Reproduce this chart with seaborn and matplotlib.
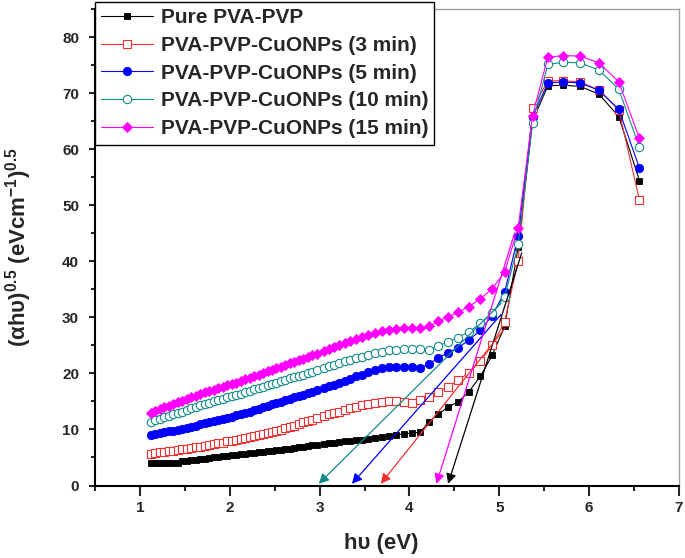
import numpy as np
import pandas as pd
import matplotlib
matplotlib.use("Agg")
import matplotlib.pyplot as plt
import seaborn as sns

# photon energy (eV), shared by all five spectra
energy = [1.12, 1.17, 1.22, 1.27, 1.32, 1.37, 1.42, 1.47, 1.52, 1.57,
          1.62, 1.67, 1.72, 1.77, 1.82, 1.87, 1.92, 1.97, 2.02, 2.07,
          2.12, 2.17, 2.22, 2.27, 2.32, 2.37, 2.42, 2.47, 2.52, 2.57,
          2.62, 2.67, 2.72, 2.77, 2.82, 2.87, 2.92, 2.97,
          3.05, 3.11, 3.16, 3.22, 3.28, 3.34, 3.41, 3.47, 3.54, 3.62,
          3.69, 3.77, 3.85, 3.94, 4.03, 4.12, 4.22, 4.32, 4.43, 4.54,
          4.66, 4.79, 4.92, 5.06, 5.21, 5.37, 5.54, 5.71, 5.90, 6.11,
          6.33, 6.56]

pure = [4.1, 4.05, 4.0, 3.95, 3.95, 3.95, 4.0, 4.3, 4.4, 4.5,
        4.6, 4.7, 4.8, 4.9, 5.0, 5.1, 5.2, 5.3, 5.4, 5.5,
        5.6, 5.7, 5.8, 5.85, 5.9, 6.0, 6.1, 6.2, 6.3, 6.4,
        6.5, 6.6, 6.7, 6.85, 6.95, 7.05, 7.15, 7.25,
        7.4, 7.5, 7.6, 7.7, 7.85, 8.0, 8.1, 8.2, 8.3, 8.5,
        8.65, 8.8, 9.0, 9.2, 9.35, 9.5, 11.4, 12.7, 14.0, 14.9,
        16.7, 19.5, 23.2, 28.4, 42.5, 65.0, 71.3, 71.4, 71.2, 69.8,
        65.8, 54.4]

cu_3min = [5.7, 5.8, 5.9, 6.0, 6.1, 6.2, 6.3, 6.45, 6.55, 6.7,
           6.85, 6.95, 7.1, 7.2, 7.35, 7.5, 7.65, 7.85, 8.0, 8.15,
           8.35, 8.5, 8.7, 8.85, 9.0, 9.15, 9.3, 9.5, 9.7, 9.95,
           10.2, 10.45, 10.7, 11.0, 11.25, 11.5, 11.75, 12.0,
           12.4, 12.7, 12.9, 13.2, 13.5, 13.75, 14.05, 14.3, 14.5, 14.75,
           14.9, 15.0, 15.1, 14.9, 14.8, 15.2, 15.8, 16.7, 17.6, 18.8,
           20.1, 22.2, 25.0, 29.2, 40.1, 67.3, 72.2, 72.2, 72.0, 70.5,
           67.0, 50.9]

cu_5min = [9.0, 9.15, 9.3, 9.5, 9.65, 9.8, 9.95, 10.15, 10.3, 10.5,
           10.7, 10.9, 11.1, 11.3, 11.5, 11.7, 11.9, 12.1, 12.3, 12.5,
           12.7, 12.95, 13.2, 13.45, 13.7, 13.95, 14.2, 14.45, 14.7, 14.95,
           15.2, 15.45, 15.7, 15.95, 16.2, 16.45, 16.7, 16.95,
           17.4, 17.75, 18.0, 18.35, 18.7, 19.05, 19.45, 19.8, 20.2, 20.6,
           20.9, 21.1, 21.2, 21.2, 21.1, 21.0, 21.7, 22.8, 23.7, 24.6,
           25.9, 27.7, 30.3, 34.5, 44.5, 65.8, 71.8, 72.0, 71.8, 70.5,
           67.1, 56.6]

cu_10min = [11.4, 11.7, 11.95, 12.2, 12.45, 12.7, 12.95, 13.2, 13.5, 13.75,
            14.0, 14.3, 14.5, 14.75, 15.0, 15.25, 15.45, 15.7, 15.95, 16.2,
            16.4, 16.65, 16.9, 17.15, 17.4, 17.6, 17.85, 18.1, 18.35, 18.6,
            18.85, 19.1, 19.35, 19.55, 19.8, 20.05, 20.3, 20.55,
            20.95, 21.25, 21.55, 21.85, 22.15, 22.45, 22.75, 23.0, 23.3, 23.6,
            23.85, 24.1, 24.2, 24.3, 24.3, 24.3, 24.2, 24.9, 25.6, 26.4,
            27.4, 28.9, 30.7, 33.7, 43.0, 64.7, 75.1, 75.5, 75.4, 74.1,
            70.7, 60.3]

cu_15min = [13.0, 13.35, 13.65, 13.95, 14.25, 14.55, 14.85, 15.15, 15.45, 15.75,
            16.05, 16.35, 16.6, 16.85, 17.1, 17.35, 17.6, 17.85, 18.1, 18.35,
            18.65, 18.95, 19.25, 19.5, 19.8, 20.1, 20.35, 20.65, 20.9, 21.2,
            21.5, 21.8, 22.05, 22.3, 22.6, 22.9, 23.2, 23.5,
            23.95, 24.3, 24.65, 25.0, 25.35, 25.7, 26.1, 26.45, 26.8, 27.2,
            27.55, 27.8, 28.0, 28.1, 28.1, 28.1, 28.4, 29.3, 30.1, 30.9,
            31.9, 33.3, 35.1, 38.1, 46.0, 66.0, 76.4, 76.7, 76.6, 75.4,
            72.0, 61.9]

labels = ["Pure PVA-PVP", "PVA-PVP-CuONPs (3 min)", "PVA-PVP-CuONPs (5 min)",
          "PVA-PVP-CuONPs (10 min)", "PVA-PVP-CuONPs (15 min)"]
colors = ["#000000", "#f03030", "#0000ff", "#108c88", "#ff00ff"]

# tangent lines: (start energy, start value, x-intercept)
tan_start_x = [5.25, 5.06, 5.02, 5.02, 5.17]
tan_start_y = [41.5, 28.0, 30.5, 32.5, 45.0]
tan_gap = [4.43, 3.68, 3.36, 2.99, 4.30]

df = pd.DataFrame({"E": energy, labels[0]: pure, labels[1]: cu_3min,
                   labels[2]: cu_5min, labels[3]: cu_10min, labels[4]: cu_15min})

sns.set_style("ticks")
plt.rcParams["font.family"] = ["Liberation Sans", "DejaVu Sans"]
plt.rcParams["font.weight"] = "bold"
plt.rcParams["axes.labelweight"] = "bold"
plt.rcParams["mathtext.fontset"] = "custom"
plt.rcParams["mathtext.rm"] = "Liberation Sans:bold"
plt.rcParams["mathtext.bf"] = "Liberation Sans:bold"
plt.rcParams["mathtext.default"] = "bf"

fig = plt.figure(figsize=(6.85, 5.58), dpi=100)
ax = fig.add_axes([95 / 685, 1 - 485.5 / 558, 584 / 685, 476.5 / 558])

styles = [dict(marker="s", ms=5, mfc="#000000", mec="#000000", mew=0.6),
          dict(marker="s", ms=5.5, mfc="white", mec=colors[1], mew=0.8),
          dict(marker="o", ms=6, mfc="#0000ff", mec="#0000ff", mew=0.6),
          dict(marker="o", ms=6, mfc="white", mec=colors[3], mew=0.8),
          dict(marker="D", ms=5.5, mfc="#ff00ff", mec="#ff00ff", mew=0.6)]

for lab, c, st in zip(labels, colors, styles):
    sns.lineplot(data=df, x="E", y=lab, ax=ax, color=c, lw=0.8, label=lab,
                 estimator=None, sort=False, markeredgecolor=st.pop("mec"), **st)

for sx, sy, gx, c in zip(tan_start_x, tan_start_y, tan_gap, colors):
    ax.annotate("", xy=(gx, 0.3), xytext=(sx, sy),
                arrowprops=dict(arrowstyle="-|>", color=c, lw=0.9,
                                mutation_scale=15, shrinkA=0, shrinkB=0))

ax.set_xlim(0.5, 7)
ax.set_ylim(0, 85)
ax.set_xticks([1, 2, 3, 4, 5, 6, 7])
ax.set_xticks(np.arange(0.5, 7.01, 0.5), minor=True)
ax.set_yticks([0, 10, 20, 30, 40, 50, 60, 70, 80])
ax.set_yticks(np.arange(0, 85.1, 5), minor=True)
ax.tick_params(axis="x", which="major", direction="out", length=7, width=1.5,
               labelsize=11, pad=4)
ax.tick_params(axis="x", which="minor", direction="out", length=3.5, width=1.5)
ax.tick_params(axis="y", which="major", direction="out", length=4.5, width=1.5,
               labelsize=11, pad=7)
ax.tick_params(axis="y", which="minor", direction="out", length=3, width=1.5)

for s in ["left", "bottom"]:
    ax.spines[s].set_linewidth(1.5)
    ax.spines[s].set_color("black")
for s in ["top", "right"]:
    ax.spines[s].set_linewidth(1.0)
    ax.spines[s].set_color("#a0a0a0")

ax.set_xlabel("hυ (eV)", fontsize=16)
ax.set_ylabel("(αhυ)$^{0.5}$ (eVcm$^{-1}$)$^{0.5}$", fontsize=16)
ax.xaxis.set_label_coords(0.49, -0.10)
ax.yaxis.set_label_coords(-0.105, 0.5)

leg = ax.legend(loc="upper left", bbox_to_anchor=(95 / 685, 1 - 2 / 558),
                bbox_transform=fig.transFigure, borderaxespad=0, frameon=True,
                fancybox=False, edgecolor="black", framealpha=1,
                prop={"weight": "bold", "size": 15}, handlelength=2.5,
                handletextpad=0.35, labelspacing=0.42, borderpad=0.3)
leg.get_frame().set_linewidth(1.0)

fig.savefig("out.png", dpi=100)
